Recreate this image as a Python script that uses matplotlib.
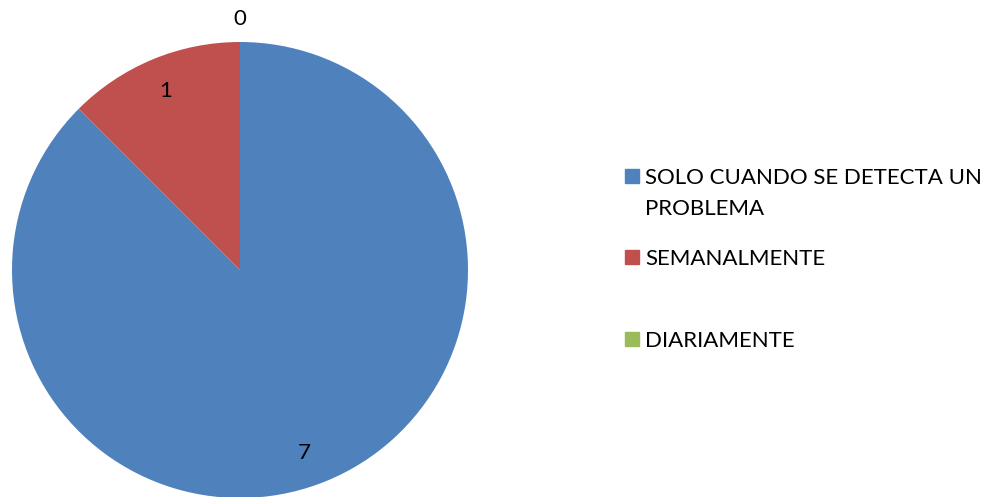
import numpy as np
import matplotlib.pyplot as plt
from matplotlib.patches import Rectangle

categorias = ['SOLO CUANDO SE DETECTA UN\nPROBLEMA', 'SEMANALMENTE', 'DIARIAMENTE']
valores = [7, 1, 0]
colores = ['#4F81BD', '#C0504D', '#9BBB59']

plt.rcParams['font.family'] = ['Lato', 'DejaVu Sans']

W, H = 992, 497
R = 228.0          # radio en pixeles
cx, cy = 240, 270  # centro del pastel (pixeles, desde arriba)

fig = plt.figure(figsize=(W / 100, H / 100), dpi=100)
ax = fig.add_axes([0, 0, 1, 1])

wedges, _ = ax.pie(valores, colors=colores, startangle=90, counterclock=False,
                   radius=1, center=(0, 0), frame=True)
ax.axis('off')
ax.set_xlim(-cx / R, (W - cx) / R)
ax.set_ylim(-(H - cy) / R, cy / R)
ax.set_aspect('equal')

# etiquetas de datos
for w, v in zip(wedges, valores):
    ang = np.deg2rad((w.theta1 + w.theta2) / 2 - (3 if v > 1 else 0))
    r = 0.85 if v > 0 else 1.10
    ax.text(r * np.cos(ang), r * np.sin(ang), str(v), ha='center', va='center',
            fontsize=16, color='black')

# leyenda
legend_y = [176, 257, 339]
for cat, col, y in zip(categorias, colores, legend_y):
    fig.patches.append(Rectangle((625 / W, 1 - (y + 7) / H), 14 / W, 14 / H,
                                 transform=fig.transFigure, color=col))
    fig.text(645 / W, 1 - (y - 8) / H, cat, ha='left', va='top', fontsize=16,
             linespacing=1.66, color='black')

fig.savefig('out.png', dpi=100)
